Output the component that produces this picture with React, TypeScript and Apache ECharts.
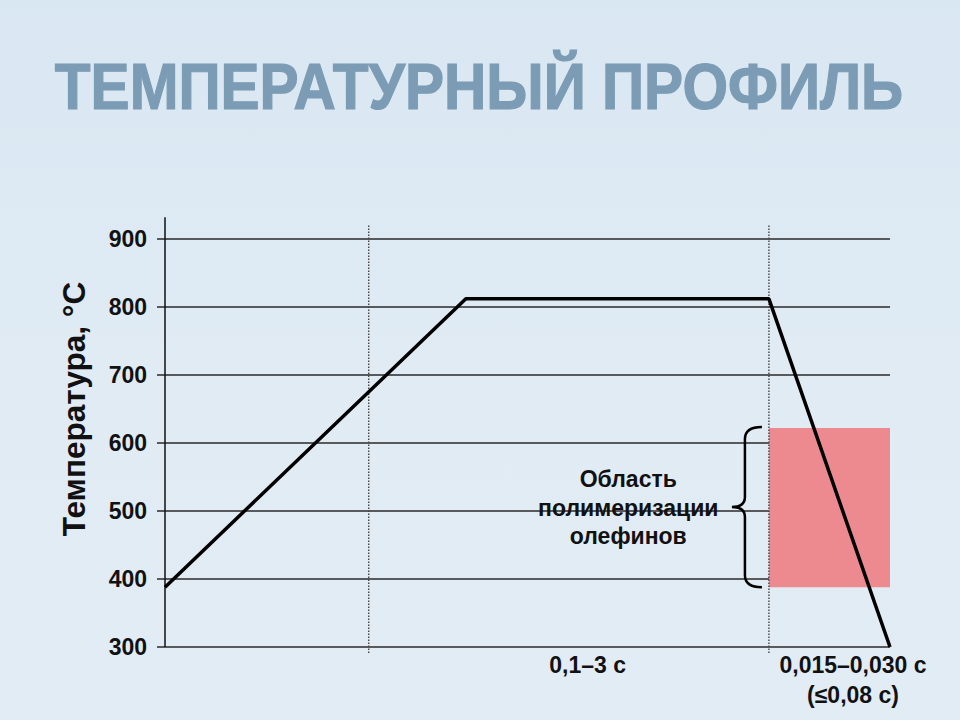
import React, { useEffect, useRef } from "react";
import * as echarts from "echarts";

// ---- data ----
const titleText = "ТЕМПЕРАТУРНЫЙ ПРОФИЛЬ";
const yAxisName = "Температура, °С";
const yMin = 300;
const yMax = 900;
const yStep = 100;
const xMin = 0;
const xMax = 100;
// temperature profile (schematic time axis, 0..100)
const profileX = [0, 41.5, 83.3, 100];
const profileY = [388, 812, 812, 300];
// vertical reference lines: y axis line, then two dotted stage boundaries
const vLineX = [0, 28.1, 83.3];
const vLineFrom = [300, 291, 291];
const vLineTo = [932, 922, 922];
// polymerisation zone (x range, temperature range)
const zoneX = [83.3, 100];
const zoneY = [388, 622];
const zoneText = "Область\nполимеризации\nолефинов";
const zoneTextX = 63.9;
// time labels under the x axis
const timeLabels = ["0,1–3 с", "0,015–0,030 с\n(≤0,08 с)"];
const timeLabelX = [58.3, 94.9];

const FONT = "'Liberation Sans', Arial, sans-serif";

export default function App() {
  const ref = useRef<HTMLDivElement>(null);
  useEffect(() => {
    document.body.style.margin = "0";
    const chart = echarts.init(ref.current!, null, { renderer: "svg" });
    const lineData = profileX.map((x, i) => [x, profileY[i]]);
    chart.setOption({
      animation: false,
      backgroundColor: "transparent",
      graphic: [
        {
          type: "text",
          x: 479,
          y: 87,
          scaleX: 0.915,
          silent: true,
          style: {
            text: titleText,
            fontFamily: FONT,
            fontWeight: "bold",
            fontSize: 64,
            fill: "#7b9cb4",
            stroke: "#7b9cb4",
            lineWidth: 1.2,
            align: "center",
            verticalAlign: "middle",
          },
        },
        {
          type: "text",
          x: 74,
          y: 409,
          rotation: Math.PI / 2,
          silent: true,
          style: {
            text: yAxisName,
            fontFamily: FONT,
            fontWeight: "bold",
            fontSize: 31.5,
            fill: "#111",
            align: "center",
            verticalAlign: "middle",
          },
        },
      ],
      grid: { left: 165, right: 70, top: 239, bottom: 73 },
      xAxis: {
        type: "value",
        min: xMin,
        max: xMax,
        axisLine: { show: false },
        axisTick: { show: false },
        axisLabel: { show: false },
        splitLine: { show: false },
      },
      yAxis: {
        type: "value",
        min: yMin,
        max: yMax,
        interval: yStep,
        axisLine: { show: false },
        axisTick: { show: true, length: 8, lineStyle: { color: "#2a2a2a", width: 1.5 } },
        axisLabel: { fontFamily: FONT, fontWeight: "bold", fontSize: 23, color: "#111", margin: 18 },
        splitLine: { show: true, showMinLine: true, showMaxLine: true, lineStyle: { color: "#2a2a2a", width: 1.5 } },
      },
      series: [
        {
          type: "line",
          z: -1,
          data: [],
          silent: true,
          markArea: {
            silent: true,
            itemStyle: { color: "#ec8a8f" },
            data: [[{ coord: [zoneX[0], zoneY[0]] }, { coord: [zoneX[1], zoneY[1]] }]],
          },
        },
        {
          type: "custom",
          silent: true,
          clip: false,
          data: vLineX.map((x, i) => [x, vLineFrom[i], vLineTo[i], i]),
          renderItem: (params: any, api: any) => {
            const a = api.coord([api.value(0), api.value(1)]);
            const b = api.coord([api.value(0), api.value(2)]);
            const isAxis = api.value(3) === 0;
            return {
              type: "line",
              shape: { x1: a[0], y1: a[1], x2: b[0], y2: b[1] },
              style: isAxis
                ? { stroke: "#111", lineWidth: 1.5 }
                : { stroke: "#444", lineWidth: 1.4, lineDash: [1.5, 1.5] },
            };
          },
        },
        {
          type: "line",
          data: lineData,
          clip: false,
          symbol: "none",
          z: 3,
          lineStyle: { color: "#000", width: 3.5 },
        },
        {
          type: "custom",
          silent: true,
          clip: false,
          data: [[zoneX[0], zoneY[0], zoneY[1]]],
          renderItem: (params: any, api: any) => {
            const top = api.coord([api.value(0), api.value(2)]);
            const bot = api.coord([api.value(0), api.value(1)]);
            const R = top[0] - 7;
            const T = top[1] - 1;
            const B = bot[1];
            const M = (T + B) / 2;
            const X = R - 17;
            const d =
              `M ${R} ${T} Q ${X} ${T} ${X} ${T + 12} L ${X} ${M - 10} Q ${X} ${M} ${R - 30} ${M} ` +
              `Q ${X} ${M} ${X} ${M + 10} L ${X} ${B - 12} Q ${X} ${B} ${R} ${B}`;
            const tp = api.coord([zoneTextX, (zoneY[0] + zoneY[1]) / 2]);
            return {
              type: "group",
              children: [
                { type: "path", shape: { pathData: d }, style: { stroke: "#000", lineWidth: 2.5, fill: "none" } },
                {
                  type: "text",
                  x: tp[0],
                  y: tp[1],
                  style: {
                    text: zoneText,
                    fill: "#111",
                    fontFamily: FONT,
                    fontWeight: "bold",
                    fontSize: 23,
                    lineHeight: 28.5,
                    align: "center",
                    verticalAlign: "middle",
                  },
                },
              ],
            };
          },
        },
        {
          type: "custom",
          silent: true,
          clip: false,
          data: timeLabelX.map((x, i) => [x, yMin, i]),
          renderItem: (params: any, api: any) => {
            const p = api.coord([api.value(0), api.value(1)]);
            return {
              type: "text",
              x: p[0],
              y: p[1] + 3,
              style: {
                text: timeLabels[api.value(2)],
                fill: "#111",
                fontFamily: FONT,
                fontWeight: "bold",
                fontSize: 23,
                lineHeight: 30,
                align: "center",
                verticalAlign: "top",
              },
            };
          },
        },
      ],
    });
    return () => chart.dispose();
  }, []);
  return (
    <div
      style={{
        position: "fixed",
        left: 0,
        top: 0,
        width: 960,
        height: 720,
        background: "linear-gradient(180deg, #d9e7f2 0%, #e0ebf4 50%, #e2ecf5 100%)",
      }}
    >
      <div ref={ref} style={{ width: 960, height: 720 }} />
    </div>
  );
}
